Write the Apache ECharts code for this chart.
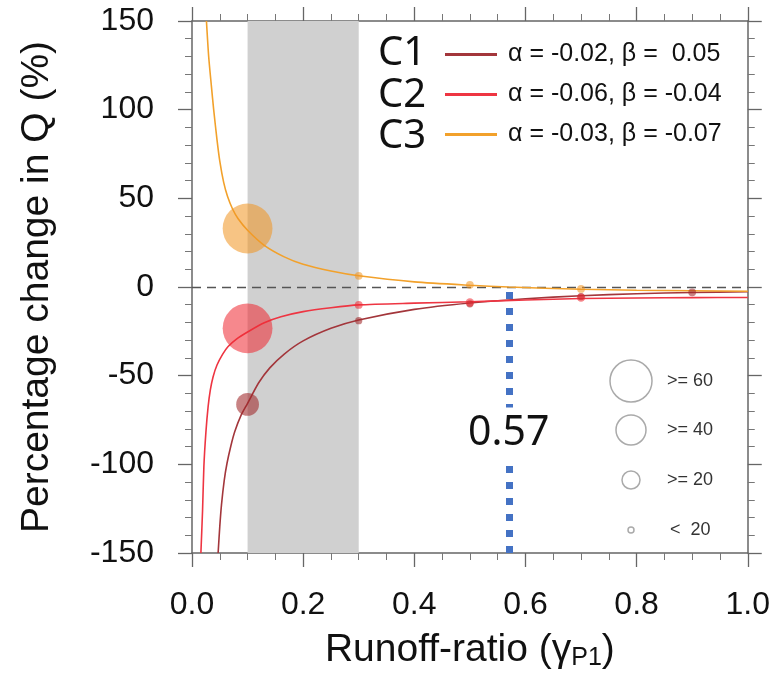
<!DOCTYPE html>
<html><head><meta charset="utf-8">
<script src="https://cdn.jsdelivr.net/npm/echarts@6/dist/echarts.min.js"></script>
<style>html,body{margin:0;padding:0;background:#fff}#c{width:773px;height:679px}</style>
</head><body><div id="c"></div>
<script>
// ---------- data ----------
const curveNames = ['C1', 'C2', 'C3'];
const curveParams = ['α = -0.02, β =  0.05', 'α = -0.06, β = -0.04', 'α = -0.03, β = -0.07'];

const c1X = [0.047, 0.05, 0.053, 0.058, 0.063, 0.07, 0.077, 0.088, 0.1, 0.12, 0.14, 0.166, 0.2, 0.25, 0.3, 0.4, 0.5, 0.6, 0.7, 0.8, 0.9, 1.0];
const c1Y = [-150, -135, -123, -109, -99.4, -89.5, -81.5, -72.5, -65.6, -54, -45.6, -37.8, -30.4, -23.3, -18.6, -12.6, -9.0, -6.6, -4.9, -3.8, -3.1, -2.7];

const c2X = [0.016, 0.019, 0.0214, 0.025, 0.029, 0.033, 0.038, 0.045, 0.055, 0.065, 0.08, 0.1, 0.13, 0.16, 0.2, 0.25, 0.3, 0.4, 0.5, 0.6, 0.7, 0.8, 0.9, 1.0];
const c2Y = [-150, -126, -101, -82, -67.5, -58, -50.6, -44, -38, -33.6, -29.4, -25.4, -20.2, -16.8, -13.9, -11.7, -10.1, -9.1, -8.3, -7.3, -6.5, -6.2, -6.0, -5.9];

const c3X = [0.026, 0.03, 0.035, 0.039, 0.045, 0.05, 0.057, 0.064, 0.073, 0.083, 0.1, 0.13, 0.166, 0.2, 0.25, 0.3, 0.4, 0.5, 0.57, 0.7, 0.8, 0.9, 1.0];
const c3Y = [150, 130, 113, 100, 83, 71, 59, 51, 44, 38.5, 32, 23.5, 17, 12.8, 9.0, 6.3, 2.9, 1.0, 0, -1.3, -1.8, -2.1, -2.4];

const bubC1X = [0.1, 0.3, 0.5, 0.7, 0.9];
const bubC1Y = [-66.2, -19, -9.5, -5.4, -3.0];
const bubC1W = [28, 2, 2, 2, 3];
const bubC2X = [0.1, 0.3, 0.5, 0.7];
const bubC2Y = [-23.3, -10.1, -8.7, -6.0];
const bubC2W = [73, 3, 4, 4];
const bubC3X = [0.1, 0.3, 0.5, 0.7];
const bubC3Y = [33, 6.3, 1.2, -1.1];
const bubC3W = [73, 3, 3, 3];

const shadeRange = [0.1, 0.3];
const thresholdX = 0.57;
const thresholdLabel = '0.57';
const sizeLegendValues = [60, 40, 20, 0];
const sizeLegendLabels = ['>= 60', '>= 40', '>= 20', '<  20'];
const xTitleMain = 'Runoff-ratio (γ';
const xTitleSub = 'P1';
const yTitle = 'Percentage change in Q (%)';

// ---------- styling ----------
const lineColors = ['#A3363B', '#EE3542', '#F2A12B'];
const bubColors = ['rgba(160,40,42,0.72)', 'rgba(239,42,51,0.7)', 'rgba(241,149,35,0.7)'];
const FONT = 'Liberation Sans';
const sizeOf = v => 0.6 * v + 6;

const pairs = (xs, ys) => xs.map((x, i) => [x, ys[i]]);
const triples = (xs, ys, ws) => xs.map((x, i) => [x, ys[i], ws[i]]);

const axisCommonX = {
  type: 'value', min: 0, max: 1, interval: 0.2,
  axisLine: { show: true, onZero: false, lineStyle: { color: '#666', width: 1.5 } },
  axisTick: { show: true, inside: false, length: 14, lineStyle: { color: '#666', width: 1.3 } },
  minorTick: { show: true, splitNumber: 4, length: 7, lineStyle: { color: '#777', width: 1 } },
  splitLine: { show: false }, minorSplitLine: { show: false }
};
const axisCommonY = {
  type: 'value', min: -150, max: 150, interval: 50,
  axisLine: { show: true, onZero: false, lineStyle: { color: '#666', width: 1.5 } },
  axisTick: { show: true, inside: false, length: 14, lineStyle: { color: '#666', width: 1.3 } },
  minorTick: { show: true, splitNumber: 5, length: 7, lineStyle: { color: '#777', width: 1 } },
  splitLine: { show: false }, minorSplitLine: { show: false }
};

const chart = echarts.init(document.getElementById('c'), null, { renderer: 'canvas' });

const series = [];
series.push({
  name: 'bg', type: 'line', data: [], z: 1, silent: true,
  markArea: { silent: true, itemStyle: { color: '#d0d0d0', opacity: 1 },
    data: [[{ xAxis: shadeRange[0] }, { xAxis: shadeRange[1] }]] },
  markLine: { silent: true, symbol: 'none', animation: false,
    label: { show: false },
    lineStyle: { color: '#555', width: 1.3, type: [9, 6] },
    data: [{ yAxis: 0 }] }
});
curveNames.forEach((n, i) => {
  const xs = [c1X, c2X, c3X][i], ys = [c1Y, c2Y, c3Y][i];
  series.push({
    name: n, type: 'line', data: pairs(xs, ys), smooth: 0.25,
    showSymbol: false, symbol: 'none', z: 3 + i, clip: true,
    lineStyle: { color: lineColors[i], width: 1.6 },
    itemStyle: { color: lineColors[i] }
  });
});
curveNames.forEach((n, i) => {
  const xs = [bubC1X, bubC2X, bubC3X][i], ys = [bubC1Y, bubC2Y, bubC3Y][i], ws = [bubC1W, bubC2W, bubC3W][i];
  series.push({
    name: n + ' pts', type: 'scatter', data: triples(xs, ys, ws), z: 6 + i,
    symbolSize: d => sizeOf(d[2]),
    itemStyle: { color: bubColors[i], borderWidth: 0 }
  });
});
series.push({
  name: 'threshold', type: 'line', data: [], z: 10, silent: true,
  markLine: { silent: true, symbol: 'none', animation: false, label: { show: false },
    lineStyle: { color: '#4472C4', width: 7, type: [7, 9], cap: 'butt' },
    data: [
      [{ coord: [thresholdX, -2.8] }, { coord: [thresholdX, -68] }],
      [{ coord: [thresholdX, -101] }, { coord: [thresholdX, -150] }]
    ] },
  markPoint: { silent: true, symbol: 'circle', symbolSize: 1, itemStyle: { color: 'rgba(0,0,0,0)' },
    label: { show: true, position: 'inside', formatter: thresholdLabel, fontSize: 41, color: '#111', fontFamily: 'Noto Sans' },
    data: [{ coord: [thresholdX, -82.5] }] }
});

const graphics = [];
curveNames.forEach((n, i) => {
  graphics.push({ type: 'text', x: 378, y: [54, 96, 137][i], silent: true,
    style: { text: n, fontSize: 40, fontFamily: 'Noto Sans', fill: '#111', verticalAlign: 'middle', align: 'left' } });
});
sizeLegendValues.forEach((v, i) => {
  const cy = [381, 430, 480, 530][i];
  graphics.push({ type: 'circle', shape: { cx: 631, cy: cy, r: sizeOf(v) / 2 }, silent: true,
    style: { fill: 'none', stroke: '#aaa', lineWidth: 1.5 } });
  graphics.push({ type: 'text', x: i === 3 ? 670 : 667, y: cy, silent: true,
    style: { text: sizeLegendLabels[i], fontSize: 18, fontFamily: FONT, fill: '#333', verticalAlign: 'middle', align: 'left' } });
});

chart.setOption({
  animation: false,
  backgroundColor: '#fff',
  grid: { left: 192, right: 21, top: 21, bottom: 126, containLabel: false },
  legend: {
    data: curveNames, orient: 'vertical', left: 440, top: 37, icon: 'rect',
    itemWidth: 52, itemHeight: 3, itemGap: 15,
    formatter: name => curveParams[curveNames.indexOf(name)],
    textStyle: { fontSize: 25, fontFamily: FONT, color: '#111', padding: [0, 0, 0, 6] },
    selectedMode: false
  },
  xAxis: [
    Object.assign({}, axisCommonX, {
      position: 'bottom',
      axisLabel: { fontSize: 32, fontFamily: FONT, color: '#111', margin: 36, formatter: v => v.toFixed(1) },
      name: '{a|' + xTitleMain + '}{b|' + xTitleSub + '}{a|)}', nameLocation: 'middle', nameGap: 75,
      nameTextStyle: { rich: {
        a: { fontSize: 39, fontFamily: FONT, color: '#111', lineHeight: 44 },
        b: { fontSize: 25, fontFamily: FONT, color: '#111', lineHeight: 44, padding: [16, 0, 0, 0] }
      } }
    }),
    Object.assign({}, axisCommonX, { position: 'top', axisLabel: { show: false } })
  ],
  yAxis: [
    Object.assign({}, axisCommonY, {
      position: 'left',
      axisLabel: { fontSize: 32, fontFamily: FONT, color: '#111', margin: 38 },
      name: yTitle, nameLocation: 'middle', nameGap: 135,
      nameTextStyle: { fontSize: 39, fontFamily: FONT, color: '#111' }
    }),
    Object.assign({}, axisCommonY, { position: 'right', axisLabel: { show: false } })
  ],
  series: series,
  graphic: graphics
});
</script></body></html>
